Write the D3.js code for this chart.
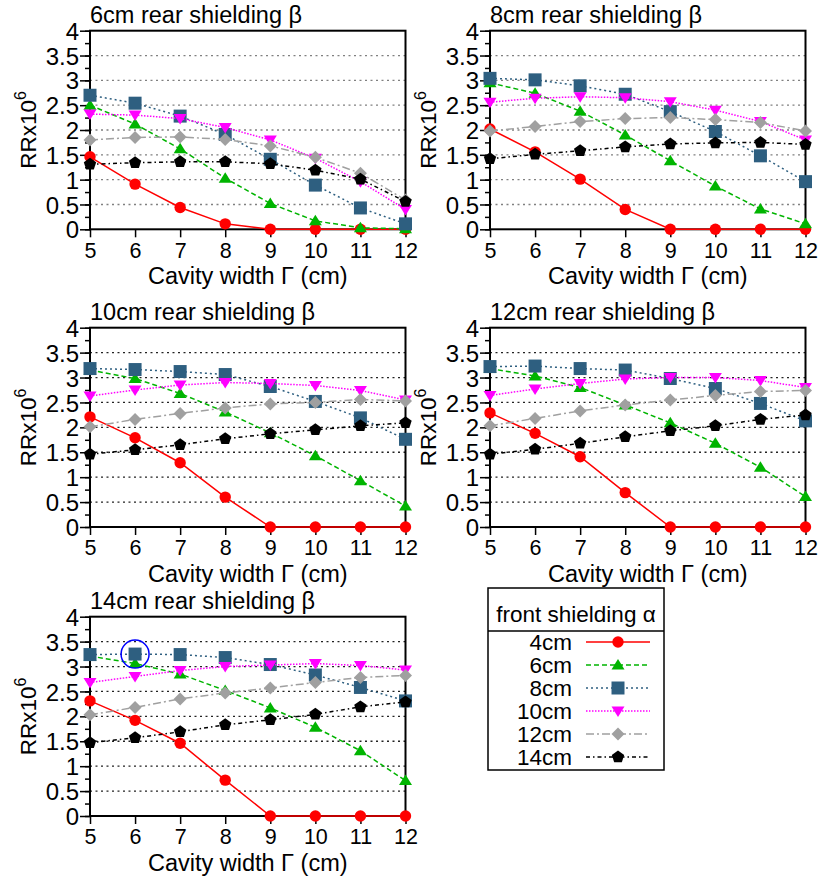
<!DOCTYPE html>
<html>
<head>
<meta charset="utf-8">
<script src="https://cdn.jsdelivr.net/npm/d3@7"></script>
<style>
  html, body { margin: 0; padding: 0; background: #fff; }
  svg { display: block; }
  text { font-family: "Liberation Sans", Arial, sans-serif; fill: #000; }
</style>
</head>
<body>
<svg id="chart" width="827" height="878"></svg>
<script>
// ---------- data ----------
const cavityWidths = [5, 6, 7, 8, 9, 10, 11, 12];
const frontShielding = ["4cm", "6cm", "8cm", "10cm", "12cm", "14cm"];
const rearShielding = ["6cm", "8cm", "10cm", "12cm", "14cm"];
const yTickValues = [0, 0.5, 1, 1.5, 2, 2.5, 3, 3.5, 4];
const gridValues = [0.5, 1, 1.5, 2, 2.5, 3, 3.5];

// RR x 10^6, one row per front shielding (4,6,8,10,12,14 cm)
const rrRear6 = [
  [1.46, 0.91, 0.44, 0.11, 0, 0, 0, 0],
  [2.50, 2.12, 1.62, 1.03, 0.52, 0.17, 0.03, 0.01],
  [2.70, 2.54, 2.28, 1.91, 1.41, 0.89, 0.43, 0.11],
  [2.32, 2.30, 2.23, 2.05, 1.80, 1.43, 0.96, 0.40],
  [1.80, 1.85, 1.86, 1.81, 1.68, 1.45, 1.13, 0.59],
  [1.31, 1.34, 1.36, 1.36, 1.32, 1.19, 1.01, 0.56]
];
const rrRear8 = [
  [2.02, 1.56, 1.01, 0.40, 0, 0, 0, 0],
  [2.95, 2.74, 2.38, 1.90, 1.38, 0.87, 0.41, 0.11],
  [3.04, 3.01, 2.89, 2.72, 2.37, 1.97, 1.48, 0.96],
  [2.56, 2.64, 2.67, 2.65, 2.57, 2.40, 2.17, 1.80],
  [1.98, 2.07, 2.17, 2.23, 2.25, 2.21, 2.15, 1.98],
  [1.42, 1.51, 1.58, 1.66, 1.72, 1.74, 1.75, 1.71]
];
const rrRear10 = [
  [2.21, 1.79, 1.29, 0.60, 0, 0, 0, 0],
  [3.15, 2.98, 2.68, 2.31, 1.89, 1.43, 0.93, 0.42],
  [3.18, 3.16, 3.12, 3.06, 2.82, 2.52, 2.19, 1.76],
  [2.63, 2.75, 2.85, 2.90, 2.88, 2.84, 2.74, 2.55],
  [2.01, 2.16, 2.28, 2.39, 2.47, 2.50, 2.56, 2.53],
  [1.46, 1.55, 1.65, 1.77, 1.87, 1.95, 2.03, 2.09]
];
const rrRear12 = [
  [2.29, 1.88, 1.41, 0.69, 0, 0, 0, 0],
  [3.18, 3.03, 2.80, 2.45, 2.09, 1.68, 1.20, 0.61],
  [3.22, 3.23, 3.18, 3.15, 2.98, 2.78, 2.48, 2.13],
  [2.64, 2.77, 2.88, 2.97, 3.00, 3.00, 2.94, 2.80],
  [2.03, 2.18, 2.33, 2.45, 2.55, 2.64, 2.72, 2.74],
  [1.46, 1.56, 1.68, 1.81, 1.93, 2.03, 2.16, 2.25]
];
const rrRear14 = [
  [2.31, 1.92, 1.46, 0.72, 0, 0, 0, 0],
  [3.21, 3.06, 2.85, 2.52, 2.17, 1.78, 1.31, 0.71],
  [3.24, 3.25, 3.24, 3.18, 3.04, 2.83, 2.58, 2.31],
  [2.68, 2.80, 2.92, 3.00, 3.03, 3.06, 3.02, 2.93],
  [2.03, 2.18, 2.35, 2.47, 2.57, 2.68, 2.78, 2.82],
  [1.47, 1.57, 1.69, 1.83, 1.93, 2.04, 2.19, 2.29]
];
const panelData = [rrRear6, rrRear8, rrRear10, rrRear12, rrRear14];
// highlighted point (panel 14cm, 8cm front, cavity 6)
const highlight = { panel: 4, x: 6, y: 3.25 };

// ---------- styles ----------
const seriesColors = ["#ff0000", "#00b400", "#2e5f80", "#ff00ff", "#a0a0a0", "#000000"];
const seriesDash = ["none", "5,3", "2,3", "1.5,1.5", "8,3,2,3", "4,3,1.5,3"];
const markerShapes = ["circle", "triangle", "square", "invtriangle", "diamond", "pentagon"];

function markerPath(shape) {
  switch (shape) {
    case "triangle": return "M0,-6L6.5,4.5L-6.5,4.5Z";
    case "invtriangle": return "M0,6L6.5,-4.5L-6.5,-4.5Z";
    case "square": return "M-6.5,-6.5H6.5V6.5H-6.5Z";
    case "diamond": return "M0,-6.5L6.5,0L0,6.5L-6.5,0Z";
    case "pentagon": {
      const r = 6.5, pts = [];
      for (let i = 0; i < 5; i++) {
        const a = -Math.PI / 2 + i * 2 * Math.PI / 5;
        pts.push([r * Math.cos(a), r * Math.sin(a)]);
      }
      return "M" + pts.map(p => p.join(",")).join("L") + "Z";
    }
    default: return d3.symbol(d3.symbolCircle, Math.PI * 5.7 * 5.7)();
  }
}

const layout = [
  { x0: 90, x1: 405.5, y0: 30.7, y1: 229.3 },
  { x0: 490, x1: 805.5, y0: 30.7, y1: 229.3 },
  { x0: 90, x1: 405.5, y0: 327.7, y1: 527 },
  { x0: 490, x1: 805.5, y0: 327.7, y1: 527 },
  { x0: 90, x1: 405.5, y0: 616.7, y1: 816 }
];

const svg = d3.select("#chart");
const FS_TITLE = 23.5, FS_YT = 24, FS_XT = 21.5, FS_LAB = 23.5, FS_LEG = 22.5;

panelData.forEach((rows, pi) => {
  const L = layout[pi];
  const x = d3.scaleLinear().domain([5, 12]).range([L.x0, L.x1]);
  const y = d3.scaleLinear().domain([0, 4]).range([L.y1, L.y0]);
  const g = svg.append("g");
  const gridColor = pi < 2 ? "#808080" : "#222";

  // grid
  g.selectAll(".grid").data(gridValues).enter().append("line")
    .attr("x1", L.x0).attr("x2", L.x1)
    .attr("y1", d => y(d)).attr("y2", d => y(d))
    .attr("stroke", gridColor).attr("stroke-width", 1.3)
    .attr("stroke-dasharray", "2,3.5");

  // y axis with minor ticks
  const yMinor = d3.range(0, 4.001, 0.25);
  g.append("g").attr("transform", `translate(${L.x0},0)`)
    .call(d3.axisLeft(y).tickValues(yMinor).tickSize(5).tickFormat(""))
    .call(a => { a.select(".domain").remove(); a.selectAll("line").attr("stroke-width", 1.5); });
  const ya = g.append("g").attr("transform", `translate(${L.x0},0)`)
    .call(d3.axisLeft(y).tickValues(yTickValues).tickSize(10).tickPadding(1).tickFormat(d3.format("")));
  ya.select(".domain").remove();
  ya.selectAll("line").attr("stroke-width", 1.5);
  ya.selectAll("text").attr("font-size", FS_YT).attr("font-family", "Liberation Sans, Arial, sans-serif")
    .attr("dy", "0.36em");

  // x axis
  const xa = g.append("g").attr("transform", `translate(0,${L.y1})`)
    .call(d3.axisBottom(x).tickValues(cavityWidths).tickSize(8).tickPadding(5).tickFormat(d3.format("")));
  xa.select(".domain").remove();
  xa.selectAll("line").attr("stroke-width", 1.5);
  xa.selectAll("text").attr("font-size", FS_XT).attr("font-family", "Liberation Sans, Arial, sans-serif");

  // frame
  g.append("rect").attr("x", L.x0).attr("y", L.y0)
    .attr("width", L.x1 - L.x0).attr("height", L.y1 - L.y0)
    .attr("fill", "none").attr("stroke", "#000").attr("stroke-width", 2);

  // series
  const line = d3.line().x((d, i) => x(cavityWidths[i])).y(d => y(d));
  rows.forEach((vals, si) => {
    const sg = g.append("g");
    sg.append("path").attr("d", line(vals)).attr("fill", "none")
      .attr("stroke", seriesColors[si]).attr("stroke-width", 1.5)
      .attr("stroke-dasharray", seriesDash[si]);
    sg.selectAll("path.m").data(vals).enter().append("path").attr("class", "m")
      .attr("d", markerPath(markerShapes[si]))
      .attr("transform", (d, i) => `translate(${x(cavityWidths[i])},${y(d)})`)
      .attr("fill", seriesColors[si]);
  });

  if (highlight.panel === pi) {
    g.append("circle").attr("cx", x(highlight.x)).attr("cy", y(highlight.y)).attr("r", 14)
      .attr("fill", "none").attr("stroke", "#0000ff").attr("stroke-width", 1.5);
  }

  // title
  g.append("text").attr("x", L.x0).attr("y", L.y0 - 8).attr("font-size", FS_TITLE)
    .text(rearShielding[pi] + " rear shielding β");
  // x label
  g.append("text").attr("x", (L.x0 + L.x1) / 2).attr("y", L.y1 + 55)
    .attr("text-anchor", "middle").attr("font-size", FS_LAB)
    .text("Cavity width Γ (cm)");
  // y label
  const yl = g.append("text")
    .attr("transform", `translate(${L.x0 - 54},${(L.y0 + L.y1) / 2}) rotate(-90)`)
    .attr("text-anchor", "middle").attr("font-size", 22.5);
  yl.append("tspan").text("RRx10");
  yl.append("tspan").attr("dy", -10).attr("font-size", 16).text("6");
});

// ---------- legend ----------
const lg = svg.append("g");
const LX0 = 488, LX1 = 664, LY0 = 588, LY1 = 770;
lg.append("rect").attr("x", LX0).attr("y", LY0).attr("width", LX1 - LX0).attr("height", LY1 - LY0)
  .attr("fill", "#fff").attr("stroke", "#000").attr("stroke-width", 1.5);
lg.append("line").attr("x1", LX0).attr("x2", LX1).attr("y1", 631).attr("y2", 631)
  .attr("stroke", "#000").attr("stroke-width", 1.5);
lg.append("text").attr("x", (LX0 + LX1) / 2).attr("y", 622).attr("text-anchor", "middle")
  .attr("font-size", FS_LEG).text("front shielding α");
const rowY = d3.scalePoint().domain(frontShielding).range([642, 757]);
frontShielding.forEach((lab, si) => {
  const cy = rowY(lab);
  lg.append("text").attr("x", 572).attr("y", cy).attr("dy", "0.36em")
    .attr("text-anchor", "end").attr("font-size", FS_LEG).text(lab);
  lg.append("line").attr("x1", 586).attr("x2", 650).attr("y1", cy).attr("y2", cy)
    .attr("stroke", seriesColors[si]).attr("stroke-width", 1.5)
    .attr("stroke-dasharray", seriesDash[si]);
  lg.append("path").attr("d", markerPath(markerShapes[si]))
    .attr("transform", `translate(618,${cy})`).attr("fill", seriesColors[si]);
});
</script>
</body>
</html>
